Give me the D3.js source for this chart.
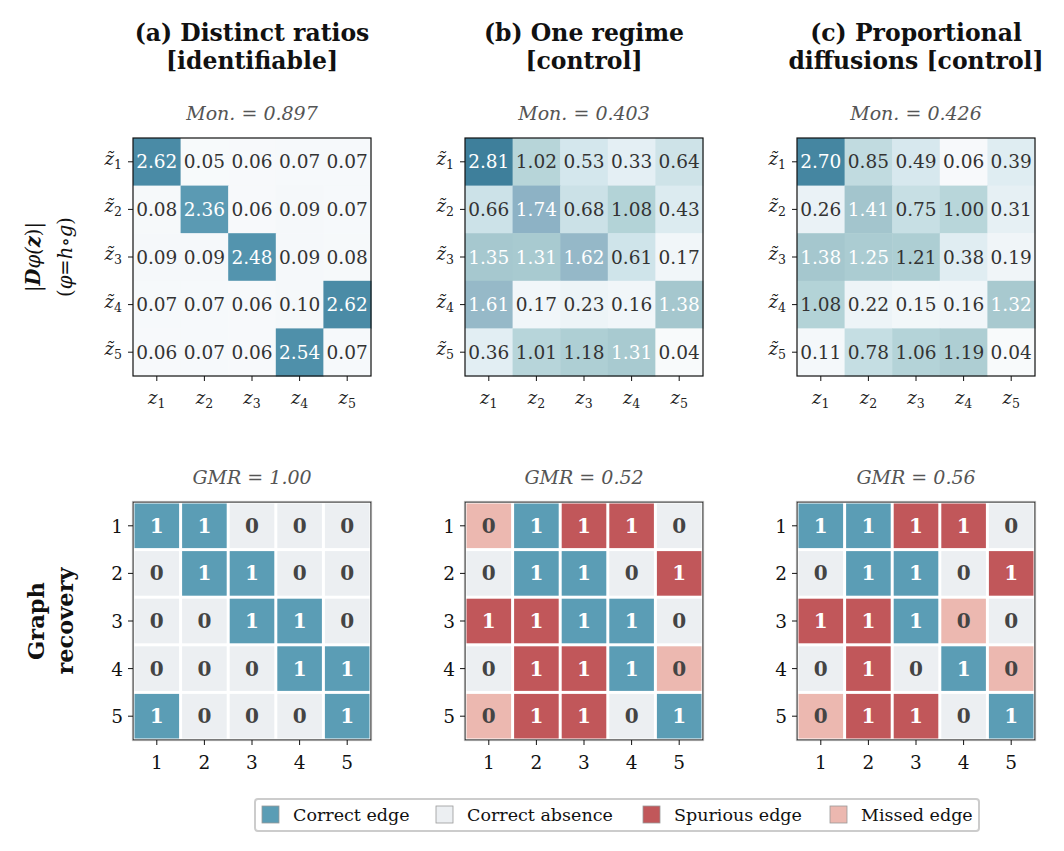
<!DOCTYPE html>
<html><head><meta charset="utf-8">
<script src="https://cdn.jsdelivr.net/npm/d3@7"></script>
<style>body{margin:0;background:#fff}svg{display:block}</style>
</head><body>
<svg id="c" width="1064" height="851"></svg>
<script>
// ---- data ----
const panelTitles = [["(a) Distinct ratios","[identifiable]"],["(b) One regime","[control]"],["(c) Proportional","diffusions [control]"]];
const monScores = ["0.897","0.403","0.426"];
const gmrScores = ["1.00","0.52","0.56"];
const jacA = [[2.62,0.05,0.06,0.07,0.07],[0.08,2.36,0.06,0.09,0.07],[0.09,0.09,2.48,0.09,0.08],[0.07,0.07,0.06,0.10,2.62],[0.06,0.07,0.06,2.54,0.07]];
const jacB = [[2.81,1.02,0.53,0.33,0.64],[0.66,1.74,0.68,1.08,0.43],[1.35,1.31,1.62,0.61,0.17],[1.61,0.17,0.23,0.16,1.38],[0.36,1.01,1.18,1.31,0.04]];
const jacC = [[2.70,0.85,0.49,0.06,0.39],[0.26,1.41,0.75,1.00,0.31],[1.38,1.25,1.21,0.38,0.19],[1.08,0.22,0.15,0.16,1.32],[0.11,0.78,1.06,1.19,0.04]];
const trueGraph = [[1,1,0,0,0],[0,1,1,0,0],[0,0,1,1,0],[0,0,0,1,1],[1,0,0,0,1]];
const predA = [[1,1,0,0,0],[0,1,1,0,0],[0,0,1,1,0],[0,0,0,1,1],[1,0,0,0,1]];
const predB = [[0,1,1,1,0],[0,1,1,0,1],[1,1,1,1,0],[0,1,1,1,0],[0,1,1,0,1]];
const predC = [[1,1,1,1,0],[0,1,1,0,1],[1,1,1,0,0],[0,1,0,1,0],[0,1,1,0,1]];
const nodeLabels = ["1","2","3","4","5"];
const legendLabels = ["Correct edge","Correct absence","Spurious edge","Missed edge"];

const jacs = [jacA,jacB,jacC];
const preds = [predA,predB,predC];
const catColors = {"Correct edge":"#5b9db5","Correct absence":"#eceff2","Spurious edge":"#c1575a","Missed edge":"#ecb8b0"};

const svg = d3.select("#c");
const serif = "'DejaVu Serif', serif";
const lefts = [133,465,797];
const size = 238;
const topY = 138, botY = 502;
const idx = d3.range(5);

const color = d3.scaleLinear()
  .domain([0,0.2,0.5,1.1,1.4,1.7,2.4,2.85])
  .range(["#fafbfc","#eff5f8","#d6e8ee","#b2d2d6","#a4c6cd","#90b3c6","#5899b2","#3c7c99"])
  .clamp(true);

function mathLabel(sel, i, tilde){
  sel.append("tspan").attr("font-style","italic").text(tilde ? "z\u0303" : "z");
  sel.append("tspan").attr("font-size","12.5px").attr("dy","4").text(String(i+1));
}

lefts.forEach((L,p)=>{
  const cx = L + size/2;
  // titles
  svg.append("text").attr("x",cx).attr("y",41).attr("text-anchor","middle")
    .attr("font-family",serif).attr("font-weight","bold").attr("font-size","23.5px").attr("fill","#111").text(panelTitles[p][0]);
  svg.append("text").attr("x",cx).attr("y",69).attr("text-anchor","middle")
    .attr("font-family",serif).attr("font-weight","bold").attr("font-size","23.5px").attr("fill","#111").text(panelTitles[p][1]);
  svg.append("text").attr("x",cx).attr("y",120).attr("text-anchor","middle")
    .attr("font-family",serif).attr("font-style","italic").attr("font-size","19px").attr("fill","#555").text("Mon. = "+monScores[p]);
  svg.append("text").attr("x",cx).attr("y",484).attr("text-anchor","middle")
    .attr("font-family",serif).attr("font-style","italic").attr("font-size","19px").attr("fill","#555").text("GMR = "+gmrScores[p]);

  // --- top heatmap ---
  const x = d3.scaleBand().domain(idx).range([L, L+size]);
  const y = d3.scaleBand().domain(idx).range([topY, topY+size]);
  const g = svg.append("g");
  const cells = [];
  idx.forEach(r=>idx.forEach(c=>cells.push({r,c,v:jacs[p][r][c]})));
  g.selectAll("rect").data(cells).join("rect")
    .attr("x",d=>x(d.c)).attr("y",d=>y(d.r)).attr("width",x.bandwidth()+0.5).attr("height",y.bandwidth()+0.5)
    .attr("fill",d=>color(d.v));
  g.selectAll("text").data(cells).join("text")
    .attr("x",d=>x(d.c)+x.bandwidth()/2).attr("y",d=>y(d.r)+y.bandwidth()/2+6.5)
    .attr("text-anchor","middle").attr("font-family",serif).attr("font-size","18.5px")
    .attr("fill",d=>d.v>1.22?"#ffffff":"#333333").text(d=>d.v.toFixed(2));
  g.append("rect").attr("x",L).attr("y",topY).attr("width",size).attr("height",size)
    .attr("fill","none").attr("stroke","#111").attr("stroke-width",1.2);
  // ticks
  idx.forEach(i=>{
    const tx = x(i)+x.bandwidth()/2, ty = y(i)+y.bandwidth()/2;
    g.append("line").attr("x1",tx).attr("x2",tx).attr("y1",topY+size).attr("y2",topY+size+5).attr("stroke","#111");
    g.append("line").attr("x1",L-5).attr("x2",L).attr("y1",ty).attr("y2",ty).attr("stroke","#111");
    const xl = g.append("text").attr("x",tx).attr("y",topY+size+28).attr("text-anchor","middle")
      .attr("font-family",serif).attr("font-size","18px").attr("fill","#222");
    mathLabel(xl,i,false);
    const yl = g.append("text").attr("x",L-11).attr("y",ty+3).attr("text-anchor","end")
      .attr("font-family",serif).attr("font-size","18px").attr("fill","#222");
    mathLabel(yl,i,true);
  });

  // --- bottom graph recovery ---
  const xb = d3.scaleBand().domain(idx).range([L, L+size]);
  const yb = d3.scaleBand().domain(idx).range([botY, botY+size]);
  const gb = svg.append("g");
  const bcells = [];
  idx.forEach(r=>idx.forEach(c=>{
    const t = trueGraph[r][c], pr = preds[p][r][c];
    const cat = t&&pr ? "Correct edge" : (!t&&!pr ? "Correct absence" : (pr ? "Spurious edge" : "Missed edge"));
    bcells.push({r,c,pr,cat});
  }));
  gb.append("rect").attr("x",L).attr("y",botY).attr("width",size).attr("height",size).attr("fill","#fff");
  gb.selectAll("rect.cell").data(bcells).join("rect").attr("class","cell")
    .attr("x",d=>xb(d.c)+1.5).attr("y",d=>yb(d.r)+1.5).attr("width",xb.bandwidth()-3).attr("height",yb.bandwidth()-3)
    .attr("fill",d=>catColors[d.cat]);
  gb.selectAll("text.lab").data(bcells).join("text").attr("class","lab")
    .attr("x",d=>xb(d.c)+xb.bandwidth()/2).attr("y",d=>yb(d.r)+yb.bandwidth()/2+7)
    .attr("text-anchor","middle").attr("font-family",serif).attr("font-weight","bold").attr("font-size","20px")
    .attr("fill",d=>(d.cat==="Correct edge"||d.cat==="Spurious edge")?"#ffffff":"#444444").text(d=>d.pr);
  gb.append("rect").attr("x",L).attr("y",botY).attr("width",size).attr("height",size)
    .attr("fill","none").attr("stroke","#222").attr("stroke-width",1.2);
  gb.append("rect").attr("x",L-0.8).attr("y",botY-0.8).attr("width",size+1.6).attr("height",size+1.6)
    .attr("fill","none").attr("stroke","#bbb").attr("stroke-width",0.6);
  idx.forEach(i=>{
    const tx = xb(i)+xb.bandwidth()/2, ty = yb(i)+yb.bandwidth()/2;
    gb.append("line").attr("x1",tx).attr("x2",tx).attr("y1",botY+size).attr("y2",botY+size+5).attr("stroke","#111");
    gb.append("line").attr("x1",L-5).attr("x2",L).attr("y1",ty).attr("y2",ty).attr("stroke","#111");
    gb.append("text").attr("x",tx).attr("y",botY+size+29).attr("text-anchor","middle")
      .attr("font-family",serif).attr("font-size","18.5px").attr("fill","#111").text(nodeLabels[i]);
    gb.append("text").attr("x",L-10).attr("y",ty+7).attr("text-anchor","end")
      .attr("font-family",serif).attr("font-size","18.5px").attr("fill","#111").text(nodeLabels[i]);
  });
});

// left row labels
const rl1 = svg.append("text").attr("transform","translate(40,257) rotate(-90)").attr("text-anchor","middle")
  .attr("font-family",serif).attr("font-size","19.5px").attr("fill","#111");
rl1.append("tspan").text("|");
rl1.append("tspan").attr("font-weight","bold").attr("font-style","italic").text("D");
rl1.append("tspan").attr("font-style","italic").text("\u03c6(");
rl1.append("tspan").attr("font-weight","bold").attr("font-style","italic").text("z");
rl1.append("tspan").text(")|");
const rl2 = svg.append("text").attr("transform","translate(72,257) rotate(-90)").attr("text-anchor","middle")
  .attr("font-family",serif).attr("font-size","19.5px").attr("fill","#111");
rl2.append("tspan").text("(");
rl2.append("tspan").attr("font-style","italic").text("\u03c6");
rl2.append("tspan").text("=");
rl2.append("tspan").attr("font-style","italic").text("h");
rl2.append("tspan").text("\u2218");
rl2.append("tspan").attr("font-style","italic").text("g");
rl2.append("tspan").text(")");
svg.append("text").attr("transform","translate(44,621) rotate(-90)").attr("text-anchor","middle")
  .attr("font-family",serif).attr("font-weight","bold").attr("font-size","22.5px").attr("fill","#111").text("Graph");
svg.append("text").attr("transform","translate(73,621) rotate(-90)").attr("text-anchor","middle")
  .attr("font-family",serif).attr("font-weight","bold").attr("font-size","22.5px").attr("fill","#111").text("recovery");

// legend
const lg = svg.append("g");
lg.append("rect").attr("x",255).attr("y",799).attr("width",724).attr("height",32).attr("rx",3)
  .attr("fill","#fff").attr("stroke","#cccccc").attr("stroke-width",2);
const lxPos = {"Correct edge":262,"Correct absence":436,"Spurious edge":643,"Missed edge":830};
legendLabels.forEach(l=>{
  const px = lxPos[l];
  lg.append("rect").attr("x",px).attr("y",806).attr("width",17).attr("height",17)
    .attr("fill",catColors[l]).attr("stroke","#999").attr("stroke-width",0.8);
  lg.append("text").attr("x",px+31).attr("y",820.5).attr("font-family",serif).attr("font-size","17.5px").attr("fill","#111").text(l);
});
</script>
</body></html>
